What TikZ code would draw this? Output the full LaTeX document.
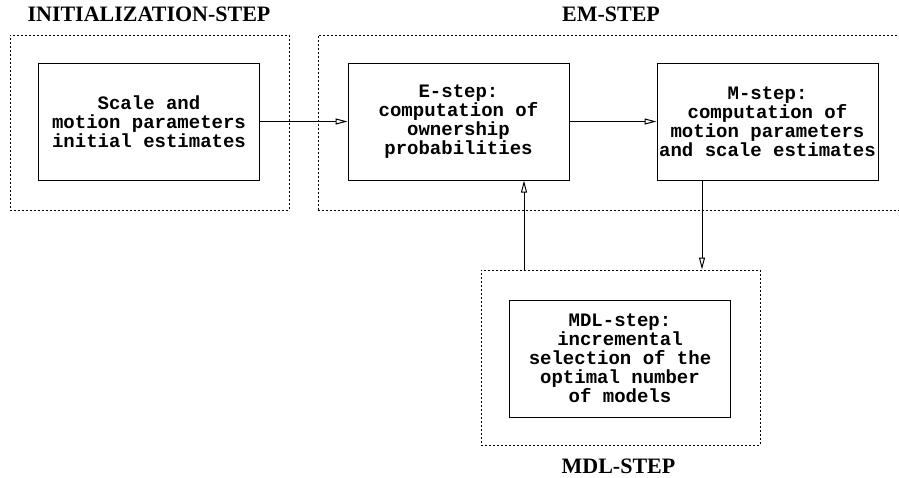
\documentclass[tikz,border=0pt]{standalone}
\usepackage{fontspec}
\setmainfont{Liberation Serif}
\setmonofont{Liberation Mono}
\usetikzlibrary{arrows.meta,positioning}
\tikzset{
  stepbox/.style={draw,line width=1pt,minimum width=221pt,minimum height=117pt,
    align=center,inner sep=0pt,font=\ttfamily\bfseries\fontsize{19}{19}\selectfont},
  stageframe/.style={draw,line width=1pt,dash pattern=on 2pt off 2pt,
    minimum width=279pt,minimum height=175pt,inner sep=0pt},
  stagelabel/.style={anchor=base,font=\bfseries\fontsize{22}{22}\selectfont},
  flow/.style={line width=1pt,-{Triangle[open,length=12pt,width=6pt]}}
}
\begin{document}
\begin{tikzpicture}[x=1pt,y=1pt]
  \useasboundingbox (0,0) rectangle (899,-477);
  % stage frames
  \node[stageframe] (initframe) at (149.5,-122.5) {};
  \node[stageframe,minimum width=620pt] (emframe) at (628,-122.5) {};
  \node[stageframe] (mdlframe) at (620.5,-357.5) {};
  \node[stagelabel] (initlbl) at (149,-21) {INITIALIZATION-STEP};
  \node[stagelabel] (emlbl) at (611,-21) {EM-STEP};
  \node[stagelabel] (mdllbl) at (618.5,-473) {MDL-STEP};

  % steps
  \node[stepbox] (init) at (149,-121.5) {Scale and\\motion parameters\\initial estimates};
  \node[stepbox] (estep) at (458.5,-121.5) {E-step:\\computation of\\ownership\\probabilities};
  \node[stepbox] (mstep) at (767.5,-121.5) {M-step:\\computation of\\motion parameters\\and scale estimates};
  \node[stepbox] (mdl) at (620,-358.5) {MDL-step:\\incremental\\selection of the\\optimal number\\of models};

  % connectors
  \coordinate (upx) at (524,0);
  \coordinate (downx) at (702,0);
  \draw[flow] (init) -- (estep);
  \draw[flow] (estep) -- (mstep);
  \draw[flow] (mstep.south -| downx) -- (mdlframe.north -| downx);
  \draw[flow] (mdlframe.north -| upx) -- (estep.south -| upx);
\end{tikzpicture}
\end{document}
